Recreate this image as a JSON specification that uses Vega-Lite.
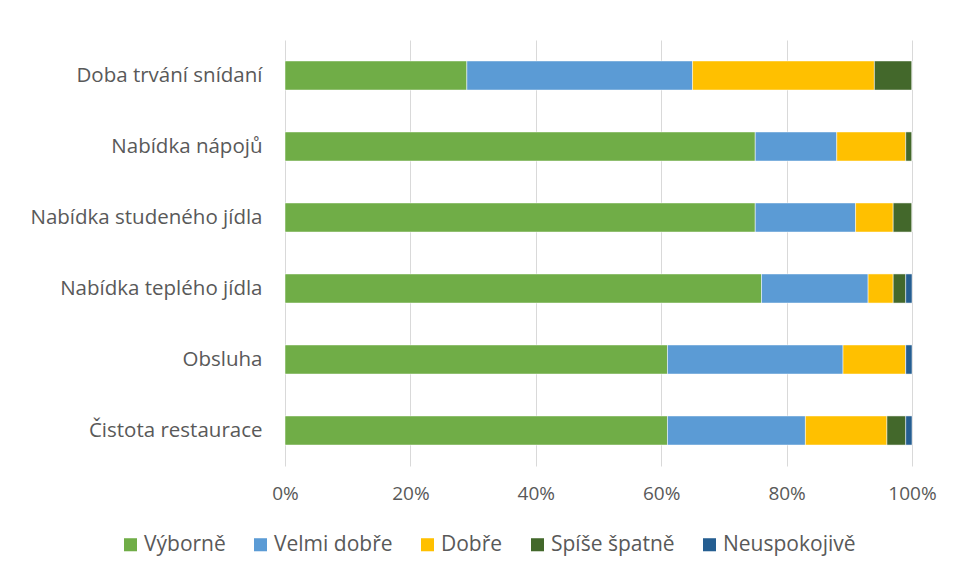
{
  "$schema": "https://vega.github.io/schema/vega-lite/v6.json",
  "width": 627,
  "height": 426,
  "autosize": {"type": "none"},
  "padding": {"left": 285, "top": 40, "right": 45, "bottom": 114},
  "background": "white",
  "config": {
    "font": "Open Sans",
    "view": {"stroke": null}
  },
  "data": {
    "values": [
      {"kat": "Doba trvání snídaní", "hod": "Výborně", "o": 1, "v": 29},
      {"kat": "Doba trvání snídaní", "hod": "Velmi dobře", "o": 2, "v": 36},
      {"kat": "Doba trvání snídaní", "hod": "Dobře", "o": 3, "v": 29},
      {"kat": "Doba trvání snídaní", "hod": "Spíše špatně", "o": 4, "v": 6},
      {"kat": "Doba trvání snídaní", "hod": "Neuspokojivě", "o": 5, "v": 0},
      {"kat": "Nabídka nápojů", "hod": "Výborně", "o": 1, "v": 75},
      {"kat": "Nabídka nápojů", "hod": "Velmi dobře", "o": 2, "v": 13},
      {"kat": "Nabídka nápojů", "hod": "Dobře", "o": 3, "v": 11},
      {"kat": "Nabídka nápojů", "hod": "Spíše špatně", "o": 4, "v": 1},
      {"kat": "Nabídka nápojů", "hod": "Neuspokojivě", "o": 5, "v": 0},
      {"kat": "Nabídka studeného jídla", "hod": "Výborně", "o": 1, "v": 75},
      {"kat": "Nabídka studeného jídla", "hod": "Velmi dobře", "o": 2, "v": 16},
      {"kat": "Nabídka studeného jídla", "hod": "Dobře", "o": 3, "v": 6},
      {"kat": "Nabídka studeného jídla", "hod": "Spíše špatně", "o": 4, "v": 3},
      {"kat": "Nabídka studeného jídla", "hod": "Neuspokojivě", "o": 5, "v": 0},
      {"kat": "Nabídka teplého jídla", "hod": "Výborně", "o": 1, "v": 76},
      {"kat": "Nabídka teplého jídla", "hod": "Velmi dobře", "o": 2, "v": 17},
      {"kat": "Nabídka teplého jídla", "hod": "Dobře", "o": 3, "v": 4},
      {"kat": "Nabídka teplého jídla", "hod": "Spíše špatně", "o": 4, "v": 2},
      {"kat": "Nabídka teplého jídla", "hod": "Neuspokojivě", "o": 5, "v": 1},
      {"kat": "Obsluha", "hod": "Výborně", "o": 1, "v": 61},
      {"kat": "Obsluha", "hod": "Velmi dobře", "o": 2, "v": 28},
      {"kat": "Obsluha", "hod": "Dobře", "o": 3, "v": 10},
      {"kat": "Obsluha", "hod": "Spíše špatně", "o": 4, "v": 0},
      {"kat": "Obsluha", "hod": "Neuspokojivě", "o": 5, "v": 1},
      {"kat": "Čistota restaurace", "hod": "Výborně", "o": 1, "v": 61},
      {"kat": "Čistota restaurace", "hod": "Velmi dobře", "o": 2, "v": 22},
      {"kat": "Čistota restaurace", "hod": "Dobře", "o": 3, "v": 13},
      {"kat": "Čistota restaurace", "hod": "Spíše špatně", "o": 4, "v": 3},
      {"kat": "Čistota restaurace", "hod": "Neuspokojivě", "o": 5, "v": 1}
    ]
  },
  "mark": {"type": "bar", "stroke": "white", "strokeWidth": 0.5},
  "encoding": {
    "y": {
      "field": "kat", "type": "nominal",
      "sort": ["Doba trvání snídaní", "Nabídka nápojů", "Nabídka studeného jídla", "Nabídka teplého jídla", "Obsluha", "Čistota restaurace"],
      "scale": {"paddingInner": 0.59, "paddingOuter": 0.295},
      "axis": {"title": null, "domain": false, "ticks": false, "labelFontSize": 20.5, "labelColor": "#595959", "labelPadding": 23, "labelLimit": 300}
    },
    "x": {
      "field": "v", "type": "quantitative", "stack": "normalize",
      "scale": {"domain": [0, 1], "nice": false},
      "axis": {"title": null, "format": ".0%", "values": [0, 0.2, 0.4, 0.6, 0.8, 1], "domain": false, "ticks": false, "grid": true, "gridColor": "#D9D9D9", "gridWidth": 1, "labelFontSize": 19, "labelColor": "#595959", "labelPadding": 18, "labelFlush": false}
    },
    "color": {
      "field": "hod", "type": "nominal",
      "sort": ["Výborně", "Velmi dobře", "Dobře", "Spíše špatně", "Neuspokojivě"],
      "scale": {"domain": ["Výborně", "Velmi dobře", "Dobře", "Spíše špatně", "Neuspokojivě"], "range": ["#70AD47", "#5B9BD5", "#FFC000", "#43682B", "#255E91"]},
      "legend": {"title": null, "orient": "none", "direction": "horizontal", "legendX": -165, "legendY": 494, "symbolType": "square", "symbolSize": 170, "symbolStrokeWidth": 0, "labelFontSize": 21, "labelColor": "#595959", "columnPadding": 24, "labelOffset": 3}
    },
    "order": {"field": "o", "type": "quantitative"}
  }
}
